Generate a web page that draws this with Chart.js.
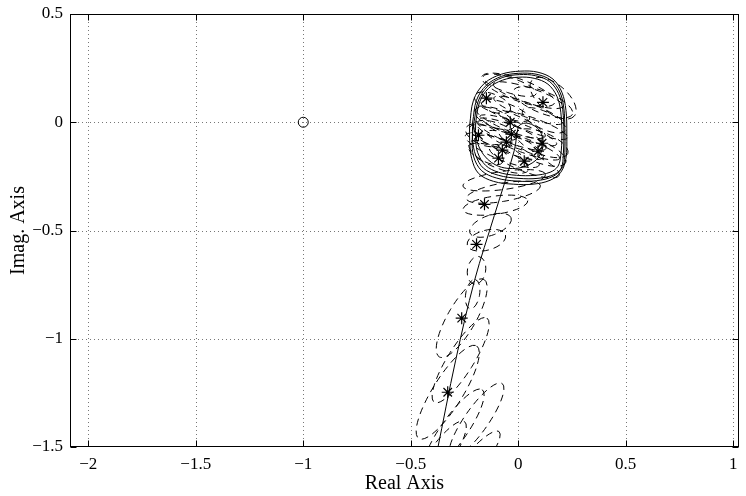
<!DOCTYPE html>
<html>
<head>
<meta charset="utf-8">
<script src="https://cdn.jsdelivr.net/npm/chart.js@4/dist/chart.umd.min.js"></script>
<style>
  body { margin: 0; background: #fff; }
  canvas { display: block; }
</style>
</head>
<body>
<canvas id="nyq" width="746" height="496"></canvas>
<script>
// --- tick values ---
const xTicks = [-2, -1.5, -1, -0.5, 0, 0.5, 1];
const yTicks = [-1.5, -1, -0.5, 0, 0.5];

// model curve (solid): low-frequency branch + hook
const modelX = [-0.378, -0.291, -0.203, -0.111, -0.018, 0, 0.018, 0.046, 0.078, 0.102, 0.115, 0.115, 0.083, 0, -0.102, -0.175, -0.212];
const modelY = [-1.524, -1.099, -0.730, -0.430, -0.129, -0.023, -0.007, -0.005, -0.018, -0.042, -0.079, -0.115, -0.175, -0.212, -0.199, -0.129, 0];

// high-frequency loops (solid)
const loopAX = [-0.212, -0.194, -0.148, -0.078, 0, 0.083, 0.152, 0.194, 0.212, 0.217, 0.217, 0.208, 0.171, 0.092, 0, -0.092, -0.162, -0.198, -0.212, -0.212];
const loopAY = [0, 0.102, 0.171, 0.212, 0.226, 0.222, 0.194, 0.139, 0.065, -0.037, -0.139, -0.203, -0.240, -0.259, -0.259, -0.245, -0.212, -0.152, -0.083, 0];
const loopBX = [-0.226, -0.208, -0.157, -0.078, 0.009, 0.092, 0.162, 0.203, 0.222, 0.226, 0.222, 0.198, 0.148, 0.069, -0.023, -0.115, -0.185, -0.217, -0.226, -0.226];
const loopBY = [-0.014, 0.102, 0.180, 0.222, 0.236, 0.231, 0.199, 0.139, 0.055, -0.060, -0.166, -0.231, -0.268, -0.286, -0.286, -0.273, -0.236, -0.166, -0.083, -0.014];
const loopCX = [-0.198, -0.180, -0.138, -0.074, 0, 0.074, 0.138, 0.180, 0.198, 0.203, 0.198, 0.185, 0.148, 0.078, -0.009, -0.092, -0.152, -0.189, -0.198, -0.198];
const loopCY = [0, 0.092, 0.157, 0.194, 0.208, 0.203, 0.176, 0.120, 0.046, -0.060, -0.152, -0.203, -0.231, -0.245, -0.245, -0.231, -0.199, -0.139, -0.074, 0];
const loopDX = [-0.205, -0.186, -0.142, -0.072, 0.005, 0.080, 0.146, 0.188, 0.207, 0.212, 0.210, 0.200, 0.162, 0.085, -0.005, -0.100, -0.170, -0.207, -0.214, -0.205];
const loopDY = [0.005, 0.098, 0.166, 0.207, 0.220, 0.215, 0.188, 0.132, 0.058, -0.048, -0.146, -0.212, -0.250, -0.270, -0.272, -0.258, -0.224, -0.160, -0.080, 0.005];

// frequency-response estimates (asterisks)
const estX = [-0.148, 0.115, -0.037, -0.185, -0.032, -0.055, -0.074, 0.111, 0.092, 0.028, -0.092, -0.157, -0.194, -0.263, -0.328];
const estY = [0.111, 0.092, 0, -0.060, -0.055, -0.092, -0.129, -0.097, -0.134, -0.180, -0.166, -0.379, -0.564, -0.905, -1.247];

// confidence ellipses (dashed): centre, semi-axes, tilt in degrees
const ellCx = [-0.120, 0.115, -0.037, -0.160, -0.032, -0.055, -0.074, 0.111, 0.092, 0.028, -0.092, 0, 0.162, -0.110,
               -0.060, 0.046, 0, 0.069, -0.100, 0.023, -0.150, 0.120, 0.046, -0.040,
               -0.106, -0.065, -0.069, -0.148, -0.129, -0.212, -0.194,
               -0.263, -0.328, -0.268, -0.300, -0.194, -0.369, -0.208];
const ellCy = [0.090, 0.092, 0, -0.060, -0.055, -0.092, -0.129, -0.097, -0.134, -0.180, -0.166, 0.150, 0.111, 0.018,
               0.055, 0.055, -0.037, -0.014, -0.037, -0.106, -0.140, 0.009, 0.125, 0.171,
               -0.383, -0.268, -0.323, -0.545, -0.476, -0.794, -0.684,
               -0.905, -1.247, -1.099, -1.423, -1.376, -1.552, -1.570];
const ellA = [0.090, 0.148, 0.175, 0.090, 0.175, 0.185, 0.185, 0.129, 0.139, 0.175, 0.150, 0.180, 0.129, 0.100,
              0.120, 0.170, 0.190, 0.170, 0.100, 0.180, 0.090, 0.110, 0.170, 0.130,
              0.152, 0.194, 0.175, 0.092, 0.102, 0.069, 0.065,
              0.208, 0.254, 0.231, 0.231, 0.208, 0.208, 0.185];
const ellB = [0.040, 0.050, 0.040, 0.045, 0.040, 0.045, 0.045, 0.050, 0.050, 0.045, 0.045, 0.050, 0.065, 0.040,
              0.033, 0.033, 0.033, 0.033, 0.033, 0.033, 0.040, 0.040, 0.035, 0.035,
              0.042, 0.042, 0.042, 0.046, 0.046, 0.032, 0.042,
              0.065, 0.069, 0.060, 0.060, 0.055, 0.055, 0.046];
const ellAng = [-22, -22, -22, -22, -22, -22, -22, -22, -22, -22, -22, -20, -40, -22,
                -20, -20, -20, -20, -20, -20, -30, -25, -18, -18,
                8, 8, 10, 15, 20, 80, 80,
                60, 58, 58, 55, 55, 55, 50];

// critical point
const critX = [-1];
const critY = [0];

const pts = (xs, ys) => xs.map((x, i) => ({ x: x, y: ys[i] }));
const fmt = v => (v < 0 ? '\u2212' + Math.abs(v) : String(v));

const lineSet = (xs, ys) => ({
    data: pts(xs, ys), showLine: true, borderColor: '#000', borderWidth: 1,
    pointRadius: 0, tension: 0.35, fill: false
});

// grid + dashed ellipses, placed through the chart scales
const ellipsePlugin = {
    id: 'ellipses',
    beforeDatasetsDraw(chart) {
        const { ctx, chartArea: a, scales: { x, y } } = chart;
        const kx = Math.abs(x.getPixelForValue(1) - x.getPixelForValue(0));
        const ky = Math.abs(y.getPixelForValue(1) - y.getPixelForValue(0));
        ctx.save();
        ctx.beginPath();
        ctx.rect(a.left, a.top, a.right - a.left, a.bottom - a.top);
        ctx.clip();
        ctx.strokeStyle = '#777';
        ctx.lineWidth = 1;
        ctx.setLineDash([1, 3]);
        xTicks.forEach(v => {
            const px = Math.round(x.getPixelForValue(v)) + 0.5;
            ctx.beginPath(); ctx.moveTo(px, a.top); ctx.lineTo(px, a.bottom); ctx.stroke();
        });
        yTicks.forEach(v => {
            const py = Math.round(y.getPixelForValue(v)) + 0.5;
            ctx.beginPath(); ctx.moveTo(a.left, py); ctx.lineTo(a.right, py); ctx.stroke();
        });
        ctx.strokeStyle = '#000';
        ctx.setLineDash([7, 5]);
        ellCx.forEach((cx, i) => {
            ctx.beginPath();
            ctx.ellipse(x.getPixelForValue(cx), y.getPixelForValue(ellCy[i]),
                ellA[i] * kx, ellB[i] * ky, -ellAng[i] * Math.PI / 180, 0, 2 * Math.PI);
            ctx.stroke();
        });
        ctx.restore();
    },
    afterDraw(chart) {
        const { ctx, chartArea: a, scales: { x, y } } = chart;
        ctx.save();
        ctx.strokeStyle = '#000';
        ctx.lineWidth = 1;
        ctx.setLineDash([]);
        const L = Math.round(a.left) + 0.5, R = Math.round(a.right) - 0.5;
        const T = Math.round(a.top) + 0.5, B = Math.round(a.bottom) - 0.5;
        ctx.strokeRect(L, T, R - L, B - T);
        ctx.beginPath();
        xTicks.forEach(v => {
            const px = Math.round(x.getPixelForValue(v)) + 0.5;
            ctx.moveTo(px, B); ctx.lineTo(px, B - 6);
            ctx.moveTo(px, T); ctx.lineTo(px, T + 6);
        });
        yTicks.forEach(v => {
            const py = Math.round(y.getPixelForValue(v)) + 0.5;
            ctx.moveTo(L, py); ctx.lineTo(L + 6, py);
            ctx.moveTo(R, py); ctx.lineTo(R - 6, py);
        });
        ctx.stroke();
        ctx.restore();
    }
};

const tickFont = { family: "'Liberation Serif', 'Times New Roman', serif", size: 17 };
const titleFont = { family: "'Liberation Serif', 'Times New Roman', serif", size: 20 };

new Chart(document.getElementById('nyq'), {
    type: 'scatter',
    data: {
        datasets: [
            lineSet(modelX, modelY),
            lineSet(loopAX, loopAY),
            lineSet(loopBX, loopBY),
            lineSet(loopCX, loopCY),
            lineSet(loopDX, loopDY),
            {
                data: pts(estX, estY), pointStyle: 'star', pointRadius: 6,
                borderColor: '#000', borderWidth: 1.2, backgroundColor: '#000'
            },
            {
                data: pts(critX, critY), pointStyle: 'circle', pointRadius: 5,
                borderColor: '#000', borderWidth: 1, backgroundColor: 'rgba(0,0,0,0)'
            }
        ]
    },
    options: {
        responsive: false,
        animation: false,
        layout: { padding: { left: 0, right: 2, top: 14, bottom: 0 } },
        plugins: { legend: { display: false }, tooltip: { enabled: false } },
        scales: {
            x: {
                type: 'linear', min: -2.085, max: 1.026,
                afterBuildTicks: s => { s.ticks = xTicks.map(v => ({ value: v })); },
                afterFit: s => { s.height = 49; s.paddingLeft = 0; s.paddingRight = 0; },
                grid: { display: false, drawTicks: false },
                border: { display: false },
                ticks: { color: '#000', font: tickFont, padding: 7, maxRotation: 0, callback: fmt },
                title: { display: true, text: 'Real Axis', color: '#000', font: titleFont, padding: { top: 0, bottom: 0 } }
            },
            y: {
                type: 'linear', min: -1.5, max: 0.5,
                afterBuildTicks: s => { s.ticks = yTicks.map(v => ({ value: v })); },
                afterFit: s => { s.width = 70; s.paddingTop = 0; s.paddingBottom = 0; },
                grid: { display: false, drawTicks: false },
                border: { display: false },
                ticks: { color: '#000', font: tickFont, padding: 7, callback: fmt },
                title: { display: true, text: 'Imag. Axis', color: '#000', font: titleFont, padding: { top: 7, bottom: 0 } }
            }
        }
    },
    plugins: [ellipsePlugin]
});
</script>
</body>
</html>
